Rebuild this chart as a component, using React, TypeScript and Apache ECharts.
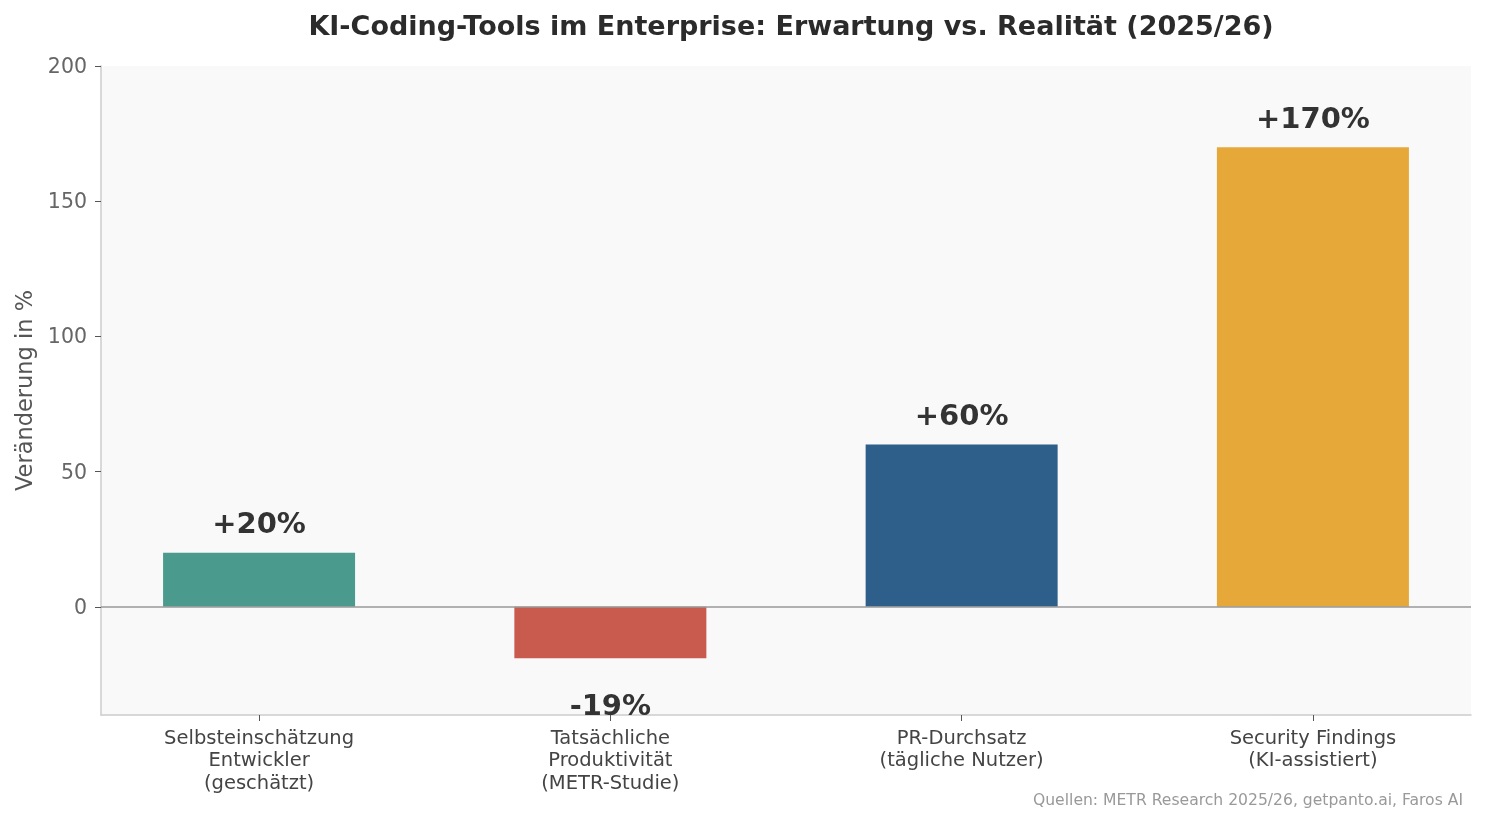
import React, { useEffect, useRef } from "react";
import * as echarts from "echarts";

const categories = [
  "Selbsteinschätzung\nEntwickler\n(geschätzt)",
  "Tatsächliche\nProduktivität\n(METR-Studie)",
  "PR-Durchsatz\n(tägliche Nutzer)",
  "Security Findings\n(KI-assistiert)",
];
const values = [20, -19, 60, 170];
const valueLabels = ["+20%", "-19%", "+60%", "+170%"];
const barColors = ["#4a9a8d", "#c85b4e", "#2e5f8a", "#e6a839"];
const yTicks = [0, 50, 100, 150, 200];
const xPositions = [0, 1, 2, 3];

const FONT = "'DejaVu Sans', 'Bitstream Vera Sans', sans-serif";

export default function App() {
  const ref = useRef<HTMLDivElement>(null);
  useEffect(() => {
    if (!ref.current) return;
    const chart = echarts.init(ref.current, null, { renderer: "svg" });
    chart.setOption({
      animation: false,
      textStyle: { fontFamily: FONT },
      title: {
        text: "KI-Coding-Tools im Enterprise: Erwartung vs. Realität (2025/26)",
        left: 786,
        textAlign: "center",
        top: 7,
        textStyle: { fontFamily: FONT, fontSize: 27, fontWeight: "bold", color: "#2b2b2b" },
      },
      graphic: [
        {
          type: "text",
          right: 22,
          top: 792,
          style: {
            text: "Quellen: METR Research 2025/26, getpanto.ai, Faros AI",
            fontFamily: FONT,
            fontSize: 15.6,
            fill: "#999999",
          },
        },
      ],
      grid: {
        left: 101,
        right: 14,
        top: 66,
        bottom: 108,
        show: true,
        backgroundColor: "#f9f9f9",
        borderWidth: 0,
      },
      xAxis: {
        type: "value",
        min: -0.45,
        max: 3.45,
        splitLine: { show: false },
        axisLine: { onZero: false, lineStyle: { color: "#cccccc", width: 1.5 } },
        axisTick: { show: true, length: 6, customValues: xPositions, lineStyle: { color: "#555555" } },
        axisLabel: {
          customValues: xPositions,
          formatter: (v: number) => categories[Math.round(v)] ?? "",
          fontFamily: FONT,
          fontSize: 19.5,
          color: "#444444",
          lineHeight: 22.5,
          margin: 11,
          align: "center",
        },
      },
      yAxis: {
        type: "value",
        min: -40,
        max: 200,
        name: "Veränderung in %",
        nameLocation: "middle",
        nameGap: 66,
        nameTextStyle: { fontFamily: FONT, fontSize: 22.5, color: "#555555" },
        axisLine: { show: true, onZero: false, lineStyle: { color: "#cccccc", width: 1.5 } },
        axisTick: { show: true, length: 6, customValues: yTicks, lineStyle: { color: "#555555" } },
        axisLabel: { customValues: yTicks, fontFamily: FONT, fontSize: 20.5, color: "#666666", margin: 14 },
        splitLine: { show: false },
      },
      series: [
        {
          type: "bar",
          barWidth: 192,
          data: values.map((v, i) => ({
            value: [xPositions[i], v],
            itemStyle: { color: barColors[i] },
            label: {
              show: true,
              position: v >= 0 ? "top" : "bottom",
              distance: v >= 0 ? 15 : 32,
              formatter: valueLabels[i],
              fontFamily: FONT,
              fontSize: 29,
              fontWeight: "bold",
              color: "#333333",
            },
          })),
          markLine: {
            silent: true,
            symbol: "none",
            label: { show: false },
            lineStyle: { color: "#999999", width: 1.5, type: "solid" },
            data: [{ yAxis: 0 }],
          },
        },
      ],
    });
    return () => chart.dispose();
  }, []);
  return (
    <div
      ref={ref}
      style={{ position: "fixed", left: 0, top: 0, width: 1485, height: 823 }}
    />
  );
}
